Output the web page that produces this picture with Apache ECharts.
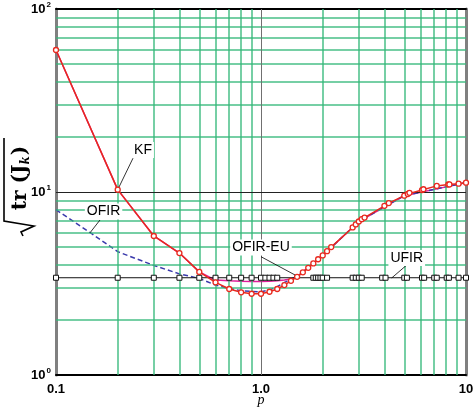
<!DOCTYPE html>
<html>
<head>
<meta charset="utf-8">
<script src="https://cdn.jsdelivr.net/npm/echarts@6/dist/echarts.min.js"></script>
<style>
  html, body { margin: 0; padding: 0; background: #fff; }
  #main { width: 473px; height: 411px; }
</style>
</head>
<body>
<div id="main"></div>
<script>
// sample points
const kfP = [0.1, 0.2, 0.3, 0.4, 0.5, 0.6, 0.7, 0.8, 0.9, 1.0, 1.1, 1.2, 1.3, 1.4, 1.5, 1.6, 1.7, 1.8, 1.9, 2.0, 2.1, 2.2,
    2.8, 2.9, 3.0, 3.1, 3.2, 4.0, 4.2, 5.0, 5.2, 5.3, 6.1, 6.2, 7.2, 8.2, 8.3, 9.2, 10];
const kfVal = [59.7, 10.3, 5.75, 4.64, 3.66, 3.21, 2.95, 2.83, 2.78, 2.78, 2.85, 2.95, 3.1, 3.27, 3.44, 3.64, 3.85, 4.07, 4.29, 4.5, 4.75, 5.0,
    6.4, 6.65, 6.9, 7.1, 7.25, 8.4, 8.7, 9.55, 9.75, 9.9, 10.25, 10.35, 10.8, 11.0, 11.0, 11.1, 11.25];

const ofirP = [0.1, 0.15, 0.2, 0.3, 0.4, 0.5, 0.6, 0.7, 0.8, 0.9, 1.0, 1.1, 1.2, 1.3, 1.4, 1.5, 2.0, 3.0, 5.0, 10];
const ofirVal = [8.0, 5.9, 4.72, 3.97, 3.57, 3.37, 3.1, 2.97, 2.89, 2.86, 2.85, 2.91, 3.04, 3.2, 3.32, 3.44, 4.5, 6.9, 9.55, 11.25];

const ofirEuP = [0.1, 0.2, 0.3, 0.4, 0.5, 0.6, 0.7, 0.8, 0.9, 1.0, 1.1, 1.2, 1.3, 1.4, 1.5, 2.0, 3.0, 5.0, 10];
const ofirEuVal = [59.7, 10.3, 5.75, 4.64, 3.66, 3.3, 3.27, 3.25, 3.24, 3.24, 3.25, 3.27, 3.3, 3.35, 3.44, 4.5, 6.9, 9.55, 11.25];

const ufirP = [0.1, 0.2, 0.3, 0.4, 0.5, 0.6, 0.7, 0.8, 0.9, 1.0, 1.05, 1.1, 1.15, 1.2,
    1.8, 1.85, 1.9, 1.95, 2.0, 2.1, 2.8, 2.9, 3.0, 3.1, 3.9, 4.05, 5.0, 5.15, 6.1, 6.25, 7.0, 7.2, 8.05, 8.25, 9.2, 10];
const ufirVal = ufirP.map(() => 3.4);

const gridX = [0.2, 0.3, 0.4, 0.5, 0.6, 0.7, 0.8, 0.9, 2, 3, 4, 5, 6, 7, 8, 9];
const gridY = [2, 3, 4, 5, 6, 7, 8, 9, 20, 30, 40, 50, 60, 70, 80, 90];
const xTickText = { '-1': '0.1', '0': '1.0', '1': '10' };

// annotation anchors in data space: label point, leader start, leader end
const notes = [
    { text: 'KF', at: [0.2657, 16.96], from: [0.2375, 15.3], to: [0.203, 10.65] },
    { text: 'OFIR', at: [0.1706, 7.83], from: [0.1639, 7.03], to: [0.1466, 5.99] },
    { text: 'OFIR-EU', at: [1.0, 4.97], from: [1.0, 4.43], to: [1.465, 3.52] },
    { text: 'UFIR', at: [5.14, 4.36], from: [5.14, 3.99], to: [4.34, 3.39] }
];

const zip = (xs, ys) => xs.map((x, i) => [x, ys[i]]);
const green = '#34b87a';

let myChart = echarts.init(document.getElementById('main'));

const gridLines = gridX.map(v => ({ xAxis: v }))
    .concat(gridY.map(v => ({ yAxis: v })))
    .concat([
        { xAxis: 1, lineStyle: { color: '#707070', width: 1, opacity: 1 } },
        { yAxis: 10, lineStyle: { color: '#222', width: 1, opacity: 1 } }
    ]);

const option = {
    animation: false,
    grid: { left: 56, right: 7, top: 9, bottom: 36, outerBoundsMode: 'none', containLabel: false },
    xAxis: [{
        type: 'log',
        logBase: 10,
        min: 0.1,
        max: 10,
        name: 'p',
        nameLocation: 'middle',
        nameGap: 18,
        nameMoveOverlap: false,
        nameTextStyle: { fontFamily: 'Liberation Serif', fontStyle: 'italic', fontSize: 14, color: '#000' },
        axisLine: { lineStyle: { color: '#000', width: 2 } },
        axisTick: { show: false },
        splitLine: { show: false },
        axisLabel: {
            margin: 8,
            fontFamily: 'Liberation Sans',
            fontWeight: 'bold',
            fontSize: 13,
            color: '#000',
            formatter: v => xTickText[String(Math.round(Math.log10(v)))]
        }
    }, {
        type: 'log', min: 0.1, max: 10, position: 'top',
        axisLine: { lineStyle: { color: '#000', width: 2 } },
        axisTick: { show: false }, axisLabel: { show: false }, splitLine: { show: false }
    }],
    yAxis: [{
        type: 'log',
        logBase: 10,
        min: 1,
        max: 100,
        axisLine: { lineStyle: { color: '#808080', width: 3 } },
        axisTick: { show: false },
        splitLine: { show: false },
        axisLabel: {
            margin: 5,
            formatter: v => '{b|10}{s|' + Math.round(Math.log10(v)) + '}',
            rich: {
                b: { fontFamily: 'Liberation Sans', fontWeight: 'bold', fontSize: 13, color: '#000' },
                s: { fontFamily: 'Liberation Sans', fontWeight: 'bold', fontSize: 8, color: '#000', verticalAlign: 'bottom', padding: [0, 0, 8, 1] }
            }
        }
    }, {
        type: 'log', min: 1, max: 100, position: 'right',
        axisLine: { lineStyle: { color: '#808080', width: 3 } },
        axisTick: { show: false }, axisLabel: { show: false }, splitLine: { show: false }
    }],
    series: [
        {
            name: 'grid',
            type: 'line',
            data: [[0.1, 1]],
            showSymbol: false,
            lineStyle: { width: 0 },
            silent: true,
            z: 1,
            markLine: {
                silent: true,
                symbol: ['none', 'none'],
                label: { show: false },
                lineStyle: { color: green, width: 1.5, type: 'solid', opacity: 0.9 },
                data: gridLines
            }
        },
        {
            name: 'OFIR-EU',
            type: 'line',
            data: zip(ofirEuP, ofirEuVal),
            showSymbol: false,
            lineStyle: { color: '#e0209a', width: 1.5 },
            z: 3
        },
        {
            name: 'OFIR',
            type: 'line',
            data: zip(ofirP, ofirVal),
            showSymbol: false,
            lineStyle: { color: '#3b3aac', width: 1.5, type: [5, 3] },
            z: 4
        },
        {
            name: 'UFIR',
            type: 'line',
            data: zip(ufirP, ufirVal),
            symbol: 'rect',
            symbolSize: 5,
            itemStyle: { color: '#fff', borderColor: '#111', borderWidth: 1 },
            lineStyle: { color: '#111', width: 1 },
            z: 5
        },
        {
            name: 'KF',
            type: 'line',
            data: zip(kfP, kfVal),
            symbol: 'circle',
            symbolSize: 5,
            itemStyle: { color: '#fff', borderColor: '#e8291f', borderWidth: 1.3 },
            lineStyle: { color: '#e8291f', width: 1.5 },
            z: 6
        }
    ]
};

myChart.setOption(option);

// annotations and the y title
const px = p => myChart.convertToPixel({ xAxisIndex: 0, yAxisIndex: 0 }, p);
const graphics = [];
notes.forEach(n => {
    const a = px(n.from), b = px(n.to), c = px(n.at);
    graphics.push({
        type: 'line', z: 20,
        shape: { x1: a[0], y1: a[1], x2: b[0], y2: b[1] },
        style: { stroke: '#000', lineWidth: 0.8 }
    });
    graphics.push({
        type: 'text', z: 21, x: c[0], y: c[1],
        style: {
            text: n.text, align: 'center', verticalAlign: 'middle',
            font: '14px "Liberation Sans"', fill: '#000',
            backgroundColor: '#fff', padding: [1, 2]
        }
    });
});

graphics.push({
    type: 'group',
    x: 20, y: 184,
    rotation: Math.PI / 2,
    children: [
        {
            type: 'polyline',
            shape: { points: [[-52, 3], [-48, 1], [-42, 14], [-37, -16], [46, -16]] },
            style: { stroke: '#000', lineWidth: 1.6, fill: null }
        },
        {
            type: 'text',
            x: 6, y: 1,
            style: {
                text: '{t|tr (J}{k|k}{t|)}',
                align: 'center', verticalAlign: 'middle',
                rich: {
                    t: { font: 'bold 20px "DejaVu Serif"', fill: '#000' },
                    k: { font: 'bold italic 12px "DejaVu Serif"', fill: '#000', verticalAlign: 'top', padding: [10, 1, 0, 0] }
                }
            }
        }
    ]
});

myChart.setOption({ graphic: graphics });
</script>
</body>
</html>
